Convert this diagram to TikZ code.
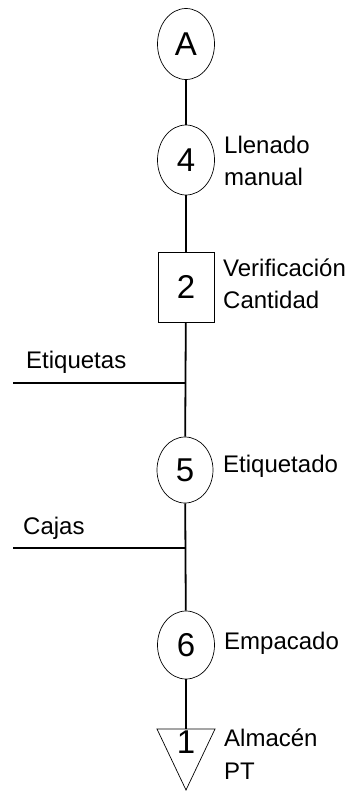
\documentclass[tikz,border=0pt]{standalone}
\usepackage{fontspec}
\setmainfont{Liberation Sans}
\usetikzlibrary{shapes.geometric}
\begin{document}
\begin{tikzpicture}[x=1pt,y=-1pt,
  conn/.style={line width=1.8pt},
  numfont/.style={font=\fontsize{33}{36}\selectfont},
  opnode/.style={draw,line width=0.7pt,ellipse,minimum width=57pt,minimum height=68pt,inner sep=0pt,numfont},
  inspnode/.style={draw,line width=0.7pt,rectangle,minimum width=56pt,minimum height=70pt,inner sep=0pt,numfont},
  lbl/.style={anchor=west,align=left,inner sep=0pt,font=\fontsize{24}{32.5}\selectfont},
  feed/.style={anchor=south west,inner sep=0pt,font=\fontsize{24}{28}\selectfont}]
\useasboundingbox (0,0) rectangle (352,792);
\node[opnode,minimum height=71pt] (A) at (186,44) {A};
\node[opnode,minimum height=70pt] (op4) at (186,160) {4};
\node[inspnode] (in2) at (186,287) {2};
\node[opnode,minimum height=66pt,minimum width=56pt] (op5) at (185,470) {5};
\node[opnode] (op6) at (186,645) {6};
\coordinate (st1) at (186,729);
\draw[line width=0.7pt] (157,729) -- (215,729) -- (186,790) -- cycle;
\node[inner sep=0pt,numfont] (n1) at (186,742.5) {1};
\coordinate (j1) at (186,383);
\coordinate (e1) at (13,383);
\coordinate (j2) at (186,548);
\coordinate (e2) at (13,548);
\draw[conn] (A) -- (op4);
\draw[conn] (op4) -- (in2);
\draw[conn] (in2) -- (op5);
\draw[conn] (op5) -- (op6);
\draw[conn] (op6) -- (st1);
\draw[conn] (e1) -- (j1);
\draw[conn] (e2) -- (j2);
\node[lbl] (t4) at (224,161) {Llenado\\manual};
\node[lbl] (t2) at (223,284) {Verificación\\Cantidad};
\node[lbl] (t5) at (223,466) {Etiquetado};
\node[lbl] (t6) at (224,643) {Empacado};
\node[lbl] (t1) at (224,754) {Almacén\\PT};
\node[feed] (fe) at (26,374) {Etiquetas};
\node[feed] (fc) at (23,540) {Cajas};
\end{tikzpicture}
\end{document}
